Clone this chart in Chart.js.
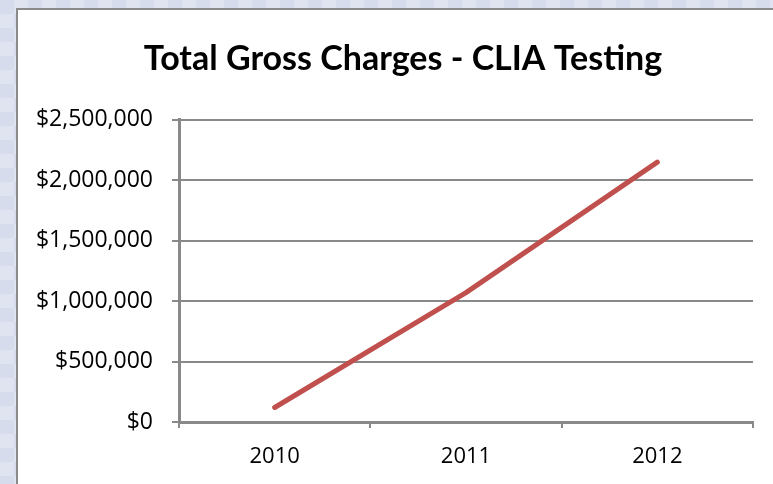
<!DOCTYPE html>
<html>
<head>
<meta charset="utf-8">
<script src="https://cdn.jsdelivr.net/npm/chart.js@4"></script>
<style>
  html, body { margin: 0; padding: 0; overflow: hidden; background: #d6dcec; }
  #chart {
    position: fixed; left: 0; top: 0; display: block;
    background-color: #d6dcec;
    background-image:
      linear-gradient(45deg, rgba(255,255,255,0.22) 25%, transparent 25%, transparent 75%, rgba(255,255,255,0.22) 75%),
      linear-gradient(45deg, rgba(255,255,255,0.22) 25%, transparent 25%, transparent 75%, rgba(255,255,255,0.22) 75%);
    background-size: 28px 28px;
    background-position: 0 0, 14px 14px;
  }
</style>
</head>
<body>
<canvas id="chart" width="773" height="484"></canvas>
<script>
// values
const years = ["2010", "2011", "2012"];
const grossCharges = [120000, 1070000, 2150000];
const yTicks = [0, 500000, 1000000, 1500000, 2000000, 2500000];

const TITLE_FONT = "Lato, 'Open Sans', sans-serif";
const TICK_FONT = "'Open Sans', Lato, sans-serif";
const AXIS = "#898989";

function dollars(v) {
  return "$" + Math.round(v).toLocaleString("en-US");
}

// white chart panel with a grey frame on its left and top (it runs off the window on the right/bottom)
const panel = {
  id: "panel",
  beforeDraw(chart) {
    const { ctx, width, height } = chart;
    ctx.save();
    ctx.fillStyle = "#fff";
    ctx.fillRect(17, 9, width - 17, height - 9);
    ctx.strokeStyle = "#8a8a8a";
    ctx.lineWidth = 2;
    ctx.beginPath();
    ctx.moveTo(17, height);
    ctx.lineTo(17, 9);
    ctx.lineTo(width, 9);
    ctx.stroke();
    ctx.restore();
  },
};

new Chart(document.getElementById("chart"), {
  type: "line",
  data: {
    labels: years,
    datasets: [{
      label: "Total Gross Charges",
      data: grossCharges,
      borderColor: "#c0504d",
      borderWidth: 5,
      borderCapStyle: "round",
      borderJoinStyle: "round",
      pointRadius: 0,
      tension: 0,
      fill: false,
    }],
  },
  plugins: [panel],
  options: {
    responsive: false,
    animation: false,
    layout: { padding: { left: 33, right: 0, top: 0, bottom: 0 } },
    plugins: {
      legend: { display: false },
      tooltip: { enabled: false },
      title: {
        display: true,
        text: "Total Gross Charges - CLIA Testing",
        color: "#000",
        font: { family: TITLE_FONT, size: 34, weight: "bold" },
        padding: { top: 39, bottom: 40 },
      },
    },
    scales: {
      x: {
        offset: true,
        grid: {
          offset: true,
          drawOnChartArea: false,
          color: AXIS,
          lineWidth: 2,
          tickLength: 6,
        },
        border: { color: AXIS, width: 3 },
        ticks: { color: "#000", font: { family: TICK_FONT, size: 22 }, padding: 16 },
        afterFit: s => { s.height = 62; },
      },
      y: {
        min: 0,
        max: 2500000,
        afterBuildTicks: s => { s.ticks = yTicks.map(v => ({ value: v })); },
        grid: { color: AXIS, lineWidth: 2, tickLength: 7 },
        border: { color: AXIS, width: 3 },
        ticks: {
          color: "#000",
          font: { family: TICK_FONT, size: 23 },
          padding: 19,
          callback: v => dollars(v),
        },
        afterFit: s => { s.width = 146; },
      },
      // empty right-hand axis: only reserves the blank margin right of the plot
      spacer: {
        type: "linear",
        position: "right",
        display: true,
        grid: { display: false },
        border: { display: false },
        ticks: { display: false },
        afterFit: s => { s.width = 20; },
      },
    },
  },
});
</script>
</body>
</html>
